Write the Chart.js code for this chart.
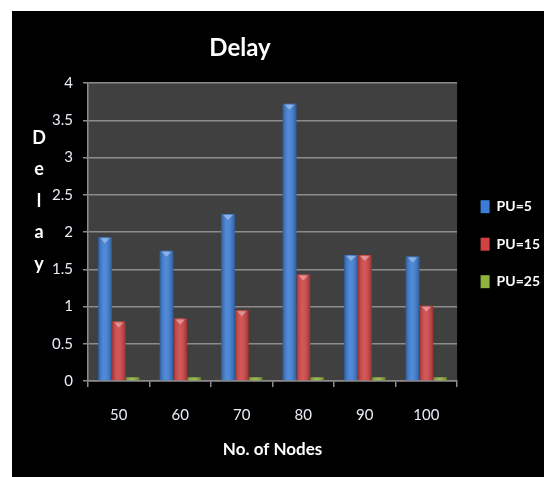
<!DOCTYPE html>
<html>
<head>
<meta charset="utf-8">
<script src="https://cdn.jsdelivr.net/npm/chart.js@4/dist/chart.umd.min.js"></script>
<style>
  html, body { margin: 0; padding: 0; background: #fff; }
  #wrap { position: absolute; left: 12px; top: 11px; width: 532px; height: 466px; background: #000; }
</style>
</head>
<body>
<div id="wrap"><canvas id="delayChart"></canvas></div>
<script>
const FONT = "Lato, 'Liberation Sans', sans-serif";

const nodes = ['50', '60', '70', '80', '90', '100'];
const pu5 = [1.93, 1.75, 2.24, 3.72, 1.69, 1.67];
const pu15 = [0.80, 0.84, 0.95, 1.43, 1.69, 1.01];
const pu25 = [0.05, 0.05, 0.05, 0.05, 0.05, 0.05];
const seriesNames = ['PU=5', 'PU=15', 'PU=25'];
const seriesColors = ['#3b7dd6', '#d24242', '#8fb33c'];

// dark plot background, bar shading, hand-placed titles
const decor = {
  id: 'decor',
  beforeDraw(chart) {
    const { ctx, chartArea: a } = chart;
    ctx.save();
    ctx.fillStyle = '#404040';
    ctx.fillRect(a.left, a.top, a.right - a.left, a.bottom - a.top);
    ctx.restore();
  },
  afterDatasetsDraw(chart) {
    const ctx = chart.ctx;
    ctx.save();
    chart.data.datasets.forEach((ds, di) => {
      chart.getDatasetMeta(di).data.forEach(bar => {
        const l = bar.x - bar.width / 2, r = bar.x + bar.width / 2;
        const g = ctx.createLinearGradient(l, 0, r, 0);
        g.addColorStop(0, 'rgba(0,0,0,0.28)');
        g.addColorStop(0.45, 'rgba(255,255,255,0.10)');
        g.addColorStop(1, 'rgba(0,0,0,0.28)');
        ctx.fillStyle = g;
        ctx.fillRect(l, bar.y, bar.width, bar.base - bar.y);
        if (bar.base - bar.y > 8) {
          ctx.fillStyle = 'rgba(255,255,255,0.35)';
          ctx.beginPath();
          ctx.moveTo(l + 2, bar.y + 1);
          ctx.lineTo(r - 2, bar.y + 1);
          ctx.lineTo(bar.x, bar.y + 6);
          ctx.closePath();
          ctx.fill();
        }
      });
    });
    ctx.restore();
  },
  afterDraw(chart) {
    const { ctx, chartArea: a } = chart;
    ctx.save();
    ctx.fillStyle = '#ffffff';
    ctx.textAlign = 'center';
    ctx.textBaseline = 'middle';
    ctx.font = 'bold 24px ' + FONT;
    ctx.fillText('Delay', 228, 37);
    ctx.font = 'bold 18px ' + FONT;
    'Delay'.split('').forEach((ch, i) => ctx.fillText(ch, a.left - 49, 127 + i * 31.5));
    ctx.restore();
  }
};

new Chart(document.getElementById('delayChart'), {
  type: 'bar',
  data: {
    labels: nodes,
    datasets: [pu5, pu15, pu25].map((d, i) => ({
      label: seriesNames[i],
      data: d,
      backgroundColor: seriesColors[i],
      borderWidth: 0,
      categoryPercentage: 0.67,
      barPercentage: 1.0
    }))
  },
  options: {
    responsive: true,
    maintainAspectRatio: false,
    animation: false,
    layout: { padding: { top: 72, left: 20, right: -6, bottom: 0 } },
    plugins: {
      title: { display: false },
      tooltip: { enabled: false },
      legend: {
        position: 'right',
        fullSize: false,
        title: { display: true, text: '', font: { size: 12 }, padding: { top: 0, bottom: 10 } },
        labels: {
          boxWidth: 9,
          boxHeight: 13,
          padding: 23.5,
          color: '#ffffff',
          font: { family: FONT, size: 14, weight: 'bold' }
        }
      }
    },
    scales: {
      x: {
        afterFit(scale) { scale.height = 96; },
        grid: { display: true, drawOnChartArea: false, drawTicks: true, tickLength: 6, color: '#8c8c8c', lineWidth: 1.5 },
        border: { display: true, color: '#8c8c8c', width: 1.5 },
        ticks: { color: '#e8eef8', padding: 19, font: { family: FONT, size: 15 } },
        title: { display: true, text: 'No. of Nodes', color: '#ffffff', padding: { top: 0, bottom: 17 }, font: { family: FONT, size: 17, weight: 'bold' } }
      },
      y: {
        min: 0,
        max: 4,
        afterFit(scale) { scale.width = 56; },
        grid: { color: '#8c8c8c', lineWidth: 1.5, tickLength: 5 },
        border: { display: true, color: '#8c8c8c', width: 1.5 },
        ticks: { stepSize: 0.5, color: '#e8eef8', padding: 10, font: { family: FONT, size: 15 }, callback: v => String(v) }
      }
    }
  },
  plugins: [decor]
});
</script>
</body>
</html>
